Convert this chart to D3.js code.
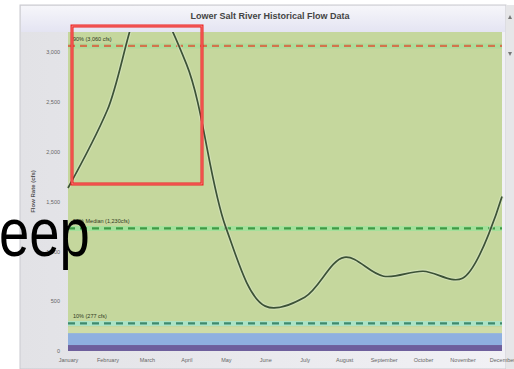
<!DOCTYPE html>
<html>
<head>
<meta charset="utf-8">
<script src="https://cdn.jsdelivr.net/npm/d3@7"></script>
<style>
  html, body { margin: 0; padding: 0; background: #fff; }
  svg { display: block; }
</style>
</head>
<body>
<svg id="chart" width="514" height="369"></svg>
<script>
// Monthly mean flow, Lower Salt River (cfs)
const months = ["January", "February", "March", "April", "May", "June",
  "July", "August", "September", "October", "November", "December"];
const flows = [1635, 2420, 3550, 2880, 1240, 450, 540, 940, 750, 800, 730, 1550];

// Flow percentile reference lines
const refLabels = ["90% (3,060 cfs)", "50% Median (1,230cfs)", "10% (277 cfs)"];
const refValues = [3060, 1230, 277];

// Low-flow shading bands [from, to]
const bandRanges = [[0, 60], [60, 180], [180, 3200]];

const yTicks = [0, 500, 1000, 1500, 2000, 2500, 3000];

const svg = d3.select("#chart");
const plot = { left: 68, right: 502, top: 32, bottom: 351 };

const x = d3.scalePoint().domain(months).range([plot.left, plot.right]);
const y = d3.scaleLinear().domain([0, 3200]).range([plot.bottom, plot.top]);

// Panel background
const defs = svg.append("defs");
const topGrad = defs.append("linearGradient").attr("id", "topGrad")
  .attr("x1", 0).attr("y1", 0).attr("x2", 0).attr("y2", 1);
topGrad.append("stop").attr("offset", "0%").attr("stop-color", "#f6f6fa");
topGrad.append("stop").attr("offset", "100%").attr("stop-color", "#e4e4f2");
const leftGrad = defs.append("linearGradient").attr("id", "leftGrad")
  .attr("x1", 0).attr("y1", 0).attr("x2", 1).attr("y2", 0);
leftGrad.append("stop").attr("offset", "0%").attr("stop-color", "#e2e2e6");
leftGrad.append("stop").attr("offset", "100%").attr("stop-color", "#f1f1f5");

svg.append("rect").attr("x", 20).attr("y", 5).attr("width", 486).attr("height", 364)
  .attr("fill", "url(#leftGrad)").attr("stroke", "#c9c9cf").attr("stroke-width", 1);
svg.append("rect").attr("x", 21).attr("y", 6).attr("width", 484).attr("height", plot.top - 6)
  .attr("fill", "url(#topGrad)");

// Scrollbar strip on the right
svg.append("rect").attr("x", 506).attr("y", 5).attr("width", 8).attr("height", 364)
  .attr("fill", "#e6e6e8");
svg.append("path").attr("d", "M508,19 L512,19 L510,15 Z").attr("fill", "#777");
svg.append("path").attr("d", "M508,52 L512,52 L510,56 Z").attr("fill", "#777");

// Shaded bands
const bandColors = ["#6e5f9c", "#8fb0df", "#c5d79d"];
svg.append("g").selectAll("rect").data(bandRanges).join("rect")
  .attr("x", plot.left).attr("width", plot.right - plot.left)
  .attr("y", d => y(d[1])).attr("height", d => y(d[0]) - y(d[1]))
  .attr("fill", (d, i) => bandColors[i]);

// Faint strip just above the blue band
svg.append("rect").attr("x", plot.left).attr("width", plot.right - plot.left)
  .attr("y", y(240)).attr("height", y(180) - y(240)).attr("fill", "#cfdca6");

// Title
svg.append("text").attr("x", 270).attr("y", 19).attr("text-anchor", "middle")
  .attr("font-family", "Liberation Sans, Arial, sans-serif").attr("font-weight", "bold")
  .attr("font-size", 9).attr("fill", "#444")
  .text("Lower Salt River Historical Flow Data");

// Y axis
const yAxis = d3.axisLeft(y).tickValues(yTicks).tickSize(0).tickPadding(8)
  .tickFormat(d3.format(","));
const ya = svg.append("g").attr("transform", `translate(${plot.left},0)`).call(yAxis);
ya.select(".domain").remove();
ya.selectAll("text").attr("font-family", "Liberation Sans, Arial, sans-serif")
  .attr("font-size", 5.5).attr("fill", "#666");

svg.append("text")
  .attr("transform", `translate(35,${(plot.top + plot.bottom) / 2}) rotate(-90)`)
  .attr("text-anchor", "middle")
  .attr("font-family", "Liberation Sans, Arial, sans-serif").attr("font-weight", "bold")
  .attr("font-size", 6).attr("fill", "#555").text("Flow Rate (cfs)");

// X axis
const xAxis = d3.axisBottom(x).tickSize(0).tickPadding(7);
const xa = svg.append("g").attr("transform", `translate(0,${plot.bottom})`).call(xAxis);
xa.select(".domain").remove();
xa.selectAll("text").attr("font-family", "Liberation Sans, Arial, sans-serif")
  .attr("font-size", 5.5).attr("fill", "#666");

// Reference lines
const refColors = ["#d2744c", "#3f9a45", "#3e8a6e"];
const refHalo = ["#a9dc9a", "#9be39a", "#a6e6cf"];
const refs = svg.append("g").selectAll("g").data(refValues).join("g");
refs.append("line")
  .attr("x1", plot.left).attr("x2", plot.right)
  .attr("y1", d => y(d)).attr("y2", d => y(d))
  .attr("stroke", (d, i) => refHalo[i]).attr("stroke-width", 5).attr("opacity", 0.8);
refs.append("line")
  .attr("x1", plot.left).attr("x2", plot.right)
  .attr("y1", d => y(d)).attr("y2", d => y(d))
  .attr("stroke", (d, i) => refColors[i]).attr("stroke-width", 2.2)
  .attr("stroke-dasharray", "7,5");
refs.append("text")
  .attr("x", plot.left + 5).attr("y", d => y(d) - 5)
  .attr("font-family", "Liberation Sans, Arial, sans-serif")
  .attr("font-size", 5.5).attr("fill", "#2f3a22")
  .text((d, i) => refLabels[i]);

// Flow curve, clipped to the plot area
defs.append("clipPath").attr("id", "plotClip").append("rect")
  .attr("x", plot.left - 2).attr("y", plot.top)
  .attr("width", plot.right - plot.left + 4).attr("height", plot.bottom - plot.top);
const line = d3.line().x((d, i) => x(months[i])).y(d => y(d))
  .curve(d3.curveCatmullRom.alpha(0.5));
svg.append("path").datum(flows).attr("clip-path", "url(#plotClip)")
  .attr("d", line).attr("fill", "none")
  .attr("stroke", "#d8e6c4").attr("stroke-width", 4).attr("opacity", 0.6);
svg.append("path").datum(flows).attr("clip-path", "url(#plotClip)")
  .attr("d", line).attr("fill", "none")
  .attr("stroke", "#3c5236").attr("stroke-width", 1.7);

// Highlight box
svg.append("rect").attr("x", 72).attr("y", 26).attr("width", 130).attr("height", 158)
  .attr("fill", "none").attr("stroke", "#ee1c1c").attr("stroke-width", 3);
svg.append("rect").attr("x", 72).attr("y", 26).attr("width", 130).attr("height", 158)
  .attr("fill", "none").attr("stroke", "#f7b0a8").attr("stroke-width", 0.7);

// Overlaid caption fragment, horizontally condensed
svg.append("text").attr("transform", "translate(-1,256) scale(0.8,1)")
  .attr("font-family", "Liberation Sans, Arial, sans-serif")
  .attr("font-size", 68).attr("fill", "#000").text("eep");
</script>
</body>
</html>
